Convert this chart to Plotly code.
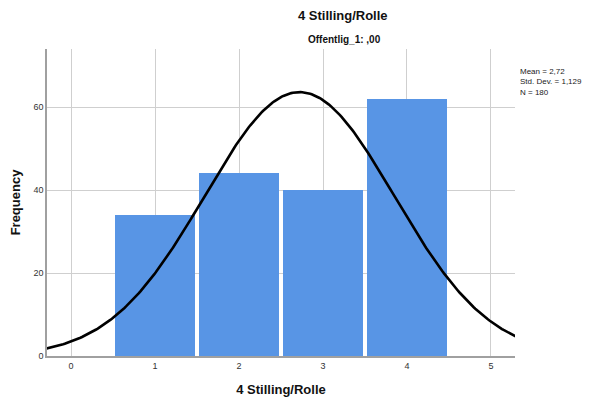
import numpy as np
import plotly.graph_objects as go

categories = [1, 2, 3, 4]
frequencies = [34, 44, 40, 62]
mean_val = 2.72
std_val = 1.129
n_val = 180

xs = np.linspace(-0.3, 5.3, 300)
ys = n_val * 1.0 / (std_val * np.sqrt(2 * np.pi)) * np.exp(-0.5 * ((xs - mean_val) / std_val) ** 2)

fig = go.Figure()
fig.add_trace(go.Bar(x=categories, y=frequencies, width=0.952,
                     marker=dict(color="#5895E5", line=dict(width=0))))
fig.add_trace(go.Scatter(x=xs, y=ys, mode="lines", line=dict(color="black", width=2.6)))

font = "Liberation Sans, Arial, sans-serif"
# page body has an 8px margin, so figure is 582x390 and left/top offsets are reduced by 8
fig.update_layout(
    width=582, height=390,
    margin=dict(l=39, r=75, t=41, b=42, autoexpand=False),
    paper_bgcolor="white", plot_bgcolor="white",
    showlegend=False,
    font=dict(family=font, color="#222"),
    bargap=0,
)
fig.update_xaxes(range=[-0.286, 5.286], tickvals=[0, 1, 2, 3, 4, 5], automargin=False,
                 showgrid=True, gridcolor="#cfcfcf", gridwidth=1,
                 showline=True, linecolor="#a0a0a0", linewidth=1.5,
                 zeroline=False, ticks="", tickfont=dict(size=9, color="#333"),
                 title=dict(text="<b>4 Stilling/Rolle</b>", font=dict(size=13, color="#111"), standoff=15))
fig.update_yaxes(range=[0, 74], tickvals=[0, 20, 40, 60], automargin=False,
                 showgrid=True, gridcolor="#cfcfcf", gridwidth=1,
                 showline=True, linecolor="#a0a0a0", linewidth=1.5,
                 zeroline=False, ticks="", tickfont=dict(size=9, color="#333"),
                 title=dict(text="<b>Frequency</b>", font=dict(size=13, color="#111"), standoff=14))

fig.add_annotation(text="<b>4 Stilling/Rolle</b>", xref="paper", yref="paper",
                   x=(343 - 47) / 468, y=1 + (49 - 16) / 307, showarrow=False,
                   font=dict(size=13, color="#111"), xanchor="center", yanchor="middle")
fig.add_annotation(text="<b>Offentlig_1: ,00</b>", xref="paper", yref="paper",
                   x=(344 - 47) / 468, y=1 + (49 - 40) / 307, showarrow=False,
                   font=dict(size=10, color="#111"), xanchor="center", yanchor="middle")
fig.add_annotation(text="Mean = 2,72<br>Std. Dev. = 1,129<br>N = 180", xref="paper", yref="paper",
                   x=1 + (518 - 515) / 468, y=1 - (65 - 49) / 307, showarrow=False, align="left",
                   font=dict(size=8, color="#222"), xanchor="left", yanchor="top")

fig.write_html("out.html")
